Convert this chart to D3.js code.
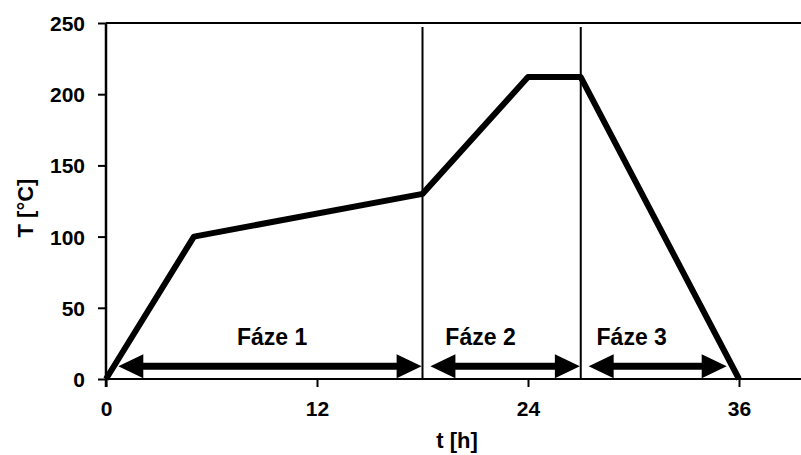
<!DOCTYPE html>
<html>
<head>
<meta charset="utf-8">
<script src="https://cdn.jsdelivr.net/npm/d3@7"></script>
<style>
  body { margin: 0; background: #fff; }
  #myPlot { width: 801px; height: 455px; }
  text { font-family: "Liberation Sans", Arial, sans-serif; font-weight: bold; fill: #000; }
</style>
</head>
<body>
<div id="myPlot"></div>
<script>
// temperature profile
const timeH = [0, 5, 18, 24, 27, 36]
const tempC = [0, 100, 130, 212, 212, 0]

// phase boundaries
const phaseLines = [18, 27]

// phase arrows
const phaseNames = ["Fáze 1", "Fáze 2", "Fáze 3"]
const arrowStart = [0.7, 18.45, 27.45]
const arrowEnd = [17.95, 26.95, 35.3]
const arrowLevel = 9
const labelT = [9.45, 21.3, 29.9]
const labelLevel = 24

const xTicks = [0, 12, 24, 36]
const yTicks = [0, 50, 100, 150, 200, 250]

const rootSelector = "#myPlot"
const clientWidth = 801
const clientHeight = 455

const svg = d3.select(rootSelector).append("svg")
    .attr("width", clientWidth)
    .attr("height", clientHeight)

const xScale = d3.scaleLinear().domain([0, 36]).range([106, 739])
const yScale = d3.scaleLinear().domain([0, 250]).range([379, 23])

// x axis
const xAxis = d3.axisBottom(xScale)
    .tickValues(xTicks)
    .tickSize(8)
    .tickPadding(14)
    .tickSizeOuter(0)

const gx = svg.append("g")
    .attr("transform", `translate(0, ${yScale(0)})`)
    .call(xAxis)
gx.select(".domain").remove()
gx.selectAll(".tick line").attr("stroke", "#000").attr("stroke-width", 2)
gx.selectAll(".tick text").attr("font-size", 21).style("font-family", "Liberation Sans, Arial, sans-serif")

// y axis
const yAxis = d3.axisLeft(yScale)
    .tickValues(yTicks)
    .tickSize(8)
    .tickPadding(13)
    .tickSizeOuter(0)

const gy = svg.append("g")
    .attr("transform", `translate(${xScale(0)}, 0)`)
    .call(yAxis)
gy.select(".domain").remove()
gy.selectAll(".tick line").attr("stroke", "#000").attr("stroke-width", 2)
gy.selectAll(".tick text").attr("font-size", 21).attr("dy", "0.36em")
    .style("font-family", "Liberation Sans, Arial, sans-serif")

// frame lines
svg.append("line")
    .attr("x1", xScale(0)).attr("x2", clientWidth)
    .attr("y1", yScale(0)).attr("y2", yScale(0))
    .attr("stroke", "#000").attr("stroke-width", 2)
svg.append("line")
    .attr("x1", xScale(0)).attr("x2", clientWidth)
    .attr("y1", yScale(250)).attr("y2", yScale(250))
    .attr("stroke", "#000").attr("stroke-width", 2)
svg.append("line")
    .attr("x1", xScale(0)).attr("x2", xScale(0))
    .attr("y1", yScale(250)).attr("y2", yScale(0) + 8)
    .attr("stroke", "#000").attr("stroke-width", 2.5)

// phase boundaries
svg.selectAll(".phaseLine")
    .data(phaseLines)
    .enter().append("line")
    .attr("class", "phaseLine")
    .attr("x1", d => xScale(d)).attr("x2", d => xScale(d))
    .attr("y1", yScale(250) + 4).attr("y2", yScale(0))
    .attr("stroke", "#000").attr("stroke-width", 2)

// temperature line
const line = d3.line()
    .x((d, i) => xScale(timeH[i]))
    .y(d => yScale(d))

svg.append("path")
    .datum(tempC)
    .attr("d", line)
    .attr("fill", "none")
    .attr("stroke", "#000")
    .attr("stroke-width", 6)
    .attr("stroke-linejoin", "round")

// double arrows
const headLen = 25
const headHalf = 12
const shaft = 3.5

phaseNames.forEach((name, i) => {
    const x0 = xScale(arrowStart[i])
    const x1 = xScale(arrowEnd[i])
    const y = yScale(arrowLevel)
    const p = d3.path()
    p.moveTo(x0, y)
    p.lineTo(x0 + headLen, y - headHalf)
    p.lineTo(x0 + headLen, y - shaft)
    p.lineTo(x1 - headLen, y - shaft)
    p.lineTo(x1 - headLen, y - headHalf)
    p.lineTo(x1, y)
    p.lineTo(x1 - headLen, y + headHalf)
    p.lineTo(x1 - headLen, y + shaft)
    p.lineTo(x0 + headLen, y + shaft)
    p.lineTo(x0 + headLen, y + headHalf)
    p.closePath()
    svg.append("path").attr("d", p.toString()).attr("fill", "#000")

    svg.append("text")
        .attr("x", xScale(labelT[i]))
        .attr("y", yScale(labelLevel))
        .attr("text-anchor", "middle")
        .attr("font-size", 23)
        .text(name)
})

// axis titles
svg.append("text")
    .attr("x", 457)
    .attr("y", 448)
    .attr("text-anchor", "middle")
    .attr("font-size", 22)
    .text("t [h]")

svg.append("text")
    .attr("transform", "translate(33, 208) rotate(-90)")
    .attr("text-anchor", "middle")
    .attr("font-size", 22)
    .text("T [°C]")
</script>
</body>
</html>
